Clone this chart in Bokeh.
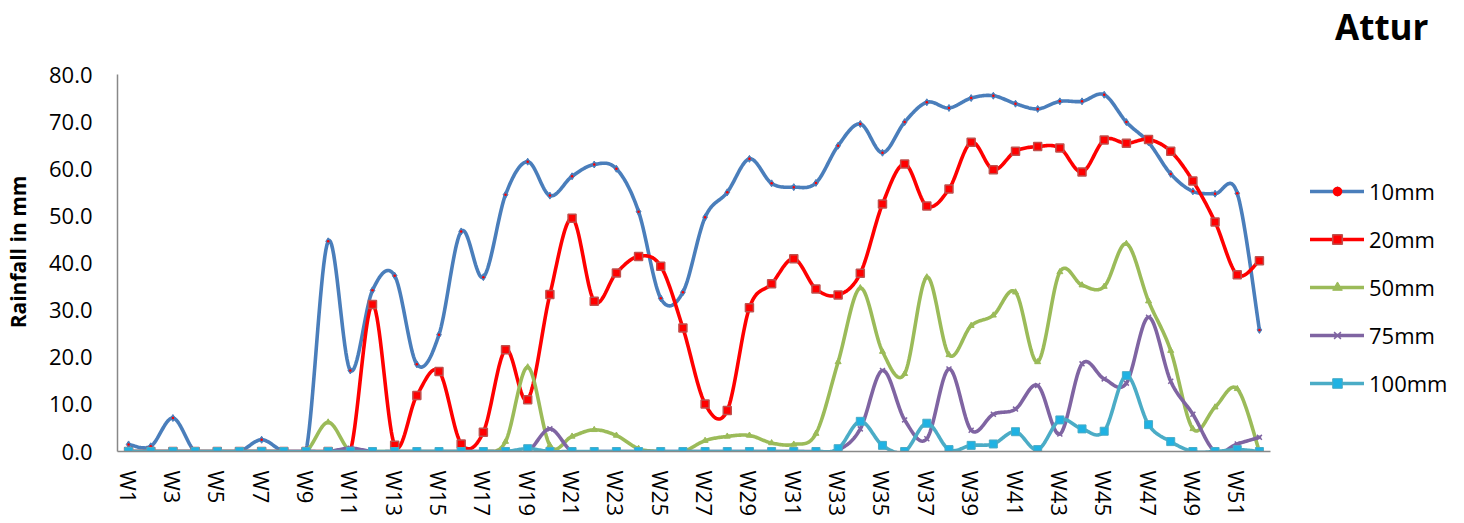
import numpy as np
from bokeh.plotting import figure
from bokeh.models import (ColumnDataSource, FixedTicker, NumeralTickFormatter,
                          Legend, LegendItem, Title)
from bokeh.embed import file_html
from bokeh.resources import INLINE

# Weekly rainfall at Attur (mm), by rainfall threshold
weeks = [f"W{i}" for i in range(1, 53)]

rain_10mm = [1.5, 1.1, 7.1, 0, 0, 0, 2.5, 0, 0, 44.6, 17.2, 34.2, 37.3, 18.5, 24.8,
             46.7, 37.0, 54.5, 61.5, 54.3, 58.4, 60.9, 60.0, 50.9, 32.5, 33.8, 49.7,
             55.0, 62.1, 56.9, 56.1, 57.0, 64.9, 69.5, 63.4, 69.9, 74.1, 72.9, 75.0,
             75.5, 73.8, 72.7, 74.3, 74.3, 75.7, 69.9, 65.6, 58.9, 55.2, 54.7, 54.8, 25.8]

rain_20mm = [0, 0, 0, 0, 0, 0, 0, 0, 0, 0, 0, 31.2, 1.3, 11.9, 17.0, 1.6, 4.1, 21.6,
             11.0, 33.3, 49.5, 31.9, 37.9, 41.4, 39.3, 26.2, 10.1, 8.7, 30.5, 35.6,
             40.9, 34.5, 33.2, 37.8, 52.5, 61.0, 52.1, 55.7, 65.6, 59.8, 63.7, 64.7,
             64.4, 59.3, 66.1, 65.4, 66.2, 63.7, 57.4, 48.7, 37.5, 40.5]

rain_50mm = [0, 0, 0, 0, 0, 0, 0, 0, 0, 6.2, 0, 0, 0, 0, 0, 0, 0, 2.1, 17.9, 1.3,
             3.2, 4.6, 3.4, 0.6, 0, 0, 2.3, 3.2, 3.4, 1.8, 1.5, 3.8, 19.0, 34.7, 21.2,
             16.5, 37.0, 20.5, 26.7, 28.9, 33.8, 19.0, 38.1, 35.3, 35.0, 44.1, 31.9,
             21.4, 4.8, 9.4, 13.3, 0]

rain_75mm = [0, 0, 0, 0, 0, 0, 0, 0, 0, 0, 0.7, 0, 0, 0, 0, 0, 0, 0, 0, 4.8,
             0, 0, 0, 0, 0, 0, 0, 0, 0, 0, 0, 0, 0.3, 4.8, 17.2, 6.7, 2.7, 17.5, 4.5,
             7.9, 9.0, 14.0, 3.7, 18.6, 15.4, 14.5, 28.5, 14.9, 7.9, 0, 1.6, 3.0]

rain_100mm = [0, 0, 0, 0, 0, 0, 0, 0, 0, 0, 0, 0, 0, 0, 0, 0, 0, 0, 0.6, 0,
              0, 0, 0, 0, 0, 0, 0, 0, 0, 0, 0, 0, 0.6, 6.4, 1.3, 0, 6.0, 0.4, 1.3,
              1.6, 4.2, 0.4, 6.7, 4.8, 4.3, 16.1, 5.7, 2.1, 0, 0, 0.4, 0]

y_ticks = [0, 10, 20, 30, 40, 50, 60, 70, 80]

FONT = "Open Sans"

# The axes cover x = 117..1270 px (weeks 0.5..52.5) and y = 74..451 px (0..80 mm).
# The frame runs on to the right edge (room for the legend) and a little above
# the 80 mm line, with the station name in a title panel over it.
WIDTH, HEIGHT = 1464, 523
FRAME_LEFT, PLOT_RIGHT = 117, 1270
FRAME_TOP, PLOT_TOP, PLOT_BOTTOM = 52, 74, 451
x_end = 0.5 + (WIDTH - FRAME_LEFT) * 52.0 / (PLOT_RIGHT - FRAME_LEFT)
y_end = (PLOT_BOTTOM - FRAME_TOP) * 80.0 / (PLOT_BOTTOM - PLOT_TOP)


def smooth_curve(xs, ys, steps=20):
    """Cubic Bezier smoothing through every point (Catmull-Rom tangents)."""
    pts = np.column_stack([np.asarray(xs, float), np.asarray(ys, float)])
    n = len(pts)
    out = []
    for i in range(n - 1):
        p0 = pts[i - 1] if i > 0 else pts[i]
        p1, p2 = pts[i], pts[i + 1]
        p3 = pts[i + 2] if i + 2 < n else pts[i + 1]
        c1 = p1 + (p2 - p0) / 6.0
        c2 = p2 - (p3 - p1) / 6.0
        t = np.linspace(0, 1, steps, endpoint=(i == n - 2))[:, None]
        seg = ((1 - t) ** 3) * p1 + 3 * ((1 - t) ** 2) * t * c1 \
            + 3 * (1 - t) * (t ** 2) * c2 + (t ** 3) * p2
        out.append(seg)
    curve = np.vstack(out)
    return curve[:, 0], curve[:, 1]


x_pos = list(range(1, len(weeks) + 1))

p = figure(width=WIDTH, height=HEIGHT, x_range=(0.5, x_end), y_range=(0, y_end),
           output_backend="svg", toolbar_location=None, title=None,
           min_border_left=FRAME_LEFT, min_border_right=0,
           min_border_top=FRAME_TOP, min_border_bottom=HEIGHT - PLOT_BOTTOM)
p.outline_line_color = None
p.grid.visible = False
p.background_fill_color = "white"
p.border_fill_color = "white"

series = [
    ("10mm", rain_10mm, "#4a7ebb", dict(marker="diamond", size=7, fill_color="#4a7ebb", line_color="#4a7ebb")),
    ("20mm", rain_20mm, "#ff0000", dict(marker="square", size=8, fill_color="#ff0000", line_color="#c0504d", line_width=1.5)),
    ("50mm", rain_50mm, "#9bbb59", dict(marker="triangle", size=6, fill_color="#9bbb59", line_color="#9bbb59")),
    ("75mm", rain_75mm, "#7f64a2", dict(marker="x", size=7, line_color="#7f64a2", line_width=1.5)),
    ("100mm", rain_100mm, "#4bacc6", dict(marker="square", size=8, fill_color="#1fb2e3", line_color="#4bacc6", line_width=1)),
]

items = []
for name, vals, color, mk in series:
    sx, sy = smooth_curve(x_pos, vals)
    line_src = ColumnDataSource(dict(x=sx, y=sy))
    pt_src = ColumnDataSource(dict(x=x_pos, y=vals, week=weeks))
    lr = p.line("x", "y", source=line_src, line_color=color, line_width=3.6,
                line_join="round", line_cap="round")
    mr = p.scatter("x", "y", source=pt_src, **mk)
    rends = [lr, mr]
    if name == "10mm":
        dot = p.scatter("x", "y", source=pt_src, marker="circle", size=2.5,
                        fill_color="#ff0000", line_color=None)
        rends.append(dot)
    items.append(LegendItem(label=name, renderers=rends))

# axes
xa = p.xaxis[0]
xa.bounds = (0.5, 52.5)
xa.ticker = FixedTicker(ticks=list(range(1, 53, 2)))
xa.major_label_overrides = {i: weeks[i - 1] for i in range(1, 53)}
xa.major_label_orientation = "vertical"
xa.major_label_text_font = FONT
xa.major_label_text_font_size = "22px"
xa.major_label_text_color = "black"
xa.major_label_standoff = 13
xa.major_tick_line_color = None
xa.minor_tick_line_color = None
xa.axis_line_color = "#888888"
xa.axis_line_width = 1.5

ya = p.yaxis[0]
ya.bounds = (0, 80)
ya.ticker = FixedTicker(ticks=y_ticks)
ya.formatter = NumeralTickFormatter(format="0.0")
ya.major_label_text_font = FONT
ya.major_label_text_font_size = "22px"
ya.major_label_text_color = "black"
ya.major_label_standoff = 19
ya.major_tick_line_color = None
ya.minor_tick_line_color = None
ya.axis_line_color = "#888888"
ya.axis_line_width = 1.5
ya.axis_label = "Rainfall in mm"
ya.axis_label_text_font = FONT
ya.axis_label_text_font_style = "bold"
ya.axis_label_text_font_size = "21px"
ya.axis_label_text_color = "black"
ya.axis_label_standoff = 14

legend = Legend(items=items, location=(PLOT_RIGHT - FRAME_LEFT + 40, 53),
                orientation="vertical", border_line_color=None,
                background_fill_alpha=0, label_text_font=FONT,
                label_text_font_size="22px", label_text_color="black",
                glyph_width=54, glyph_height=24, label_height=24, spacing=18,
                padding=0, margin=0, label_standoff=5)
p.add_layout(legend, "center")

title = Title(text="Attur", align="right", offset=36, standoff=2,
              vertical_align="top", text_font=FONT, text_font_style="bold",
              text_font_size="35px", text_color="black")
p.add_layout(title, "above")

open("out.html", "w").write(file_html(p, INLINE))
